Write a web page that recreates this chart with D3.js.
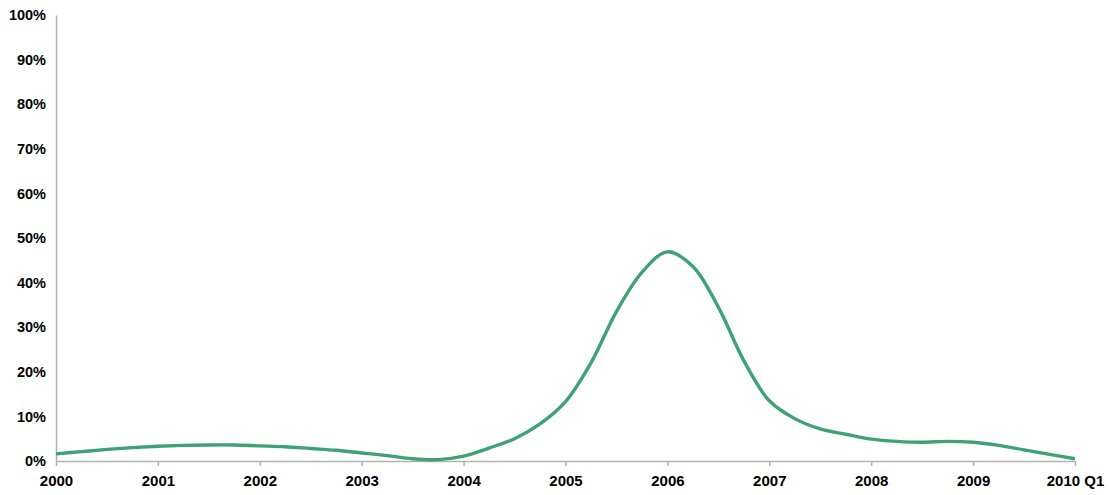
<!DOCTYPE html>
<html>
<head>
<meta charset="utf-8">
<script src="https://cdn.jsdelivr.net/npm/d3@7"></script>
<style>
  body { margin: 0; background: #fff; }
  svg text { font-family: "Liberation Sans", Arial, sans-serif; font-weight: bold; fill: #000; }
</style>
</head>
<body>
<svg></svg>
<script>

// quarterly values, 2000 Q1 .. 2010 Q1 (percent)
const quarters = [];
for (let y = 2000; y <= 2010; y++) {
  for (let q = 1; q <= 4; q++) {
    if (y === 2010 && q > 1) break;
    quarters.push(y + " Q" + q);
  }
}
const values = [
  1.6, 2.1, 2.6, 3.0,
  3.3, 3.5, 3.6, 3.6,
  3.4, 3.2, 2.8, 2.4,
  1.8, 1.2, 0.5, 0.3,
  1.1, 2.9, 5.0, 8.3,
  13.3, 22.0, 33.5, 42.3,
  46.9, 43.6, 34.5, 22.5,
  13.5, 9.5, 7.2, 6.0,
  4.9, 4.4, 4.2, 4.4,
  4.2, 3.5, 2.5, 1.5,
  0.5
];
const tickLabels = ["2000", "2001", "2002", "2003", "2004", "2005", "2006", "2007", "2008", "2009", "2010 Q1"];
const yTicks = [0, 10, 20, 30, 40, 50, 60, 70, 80, 90, 100];

const W = 1109, H = 495;
const margin = {top: 15, right: 34, bottom: 34, left: 56};
const width = W - margin.left - margin.right;
const height = H - margin.top - margin.bottom;

const svg = d3.select("svg").attr("width", W).attr("height", H);
const g = svg.append("g").attr("transform", "translate(" + margin.left + "," + margin.top + ")");

const x_scale = d3.scalePoint().domain(quarters).range([0, width]);
const y_scale = d3.scaleLinear().domain([0, 100]).range([height, 0]);

// y axis
const yAxis = g.append("g")
  .call(d3.axisLeft(y_scale).tickValues(yTicks).tickSize(0).tickPadding(10).tickFormat(d => d + "%"));
yAxis.select(".domain").attr("stroke", "#b3b3b3").attr("stroke-width", 1.5);

// x axis: a label every 4 quarters
const labelled = quarters.filter((d, i) => i % 4 === 0);
const xAxis = g.append("g")
  .attr("transform", "translate(0," + height + ")")
  .call(d3.axisBottom(x_scale).tickValues(labelled).tickSize(5).tickSizeOuter(0).tickPadding(9)
    .tickFormat((d, i) => tickLabels[i]));
xAxis.select(".domain").attr("stroke", "#b3b3b3").attr("stroke-width", 1.5);
xAxis.selectAll(".tick line").attr("stroke", "#b3b3b3").attr("stroke-width", 1.5);

// line
g.append("path")
  .datum(values)
  .attr("fill", "none")
  .attr("stroke", "#3fa275")
  .attr("stroke-width", 3.4)
  .attr("d", d3.line()
    .x((d, i) => x_scale(quarters[i]))
    .y(d => y_scale(d))
    .curve(d3.curveCatmullRom));

yAxis.selectAll("text").style("font-size", "14.5px");
xAxis.selectAll("text").style("font-size", "15px");
</script>
</body>
</html>
